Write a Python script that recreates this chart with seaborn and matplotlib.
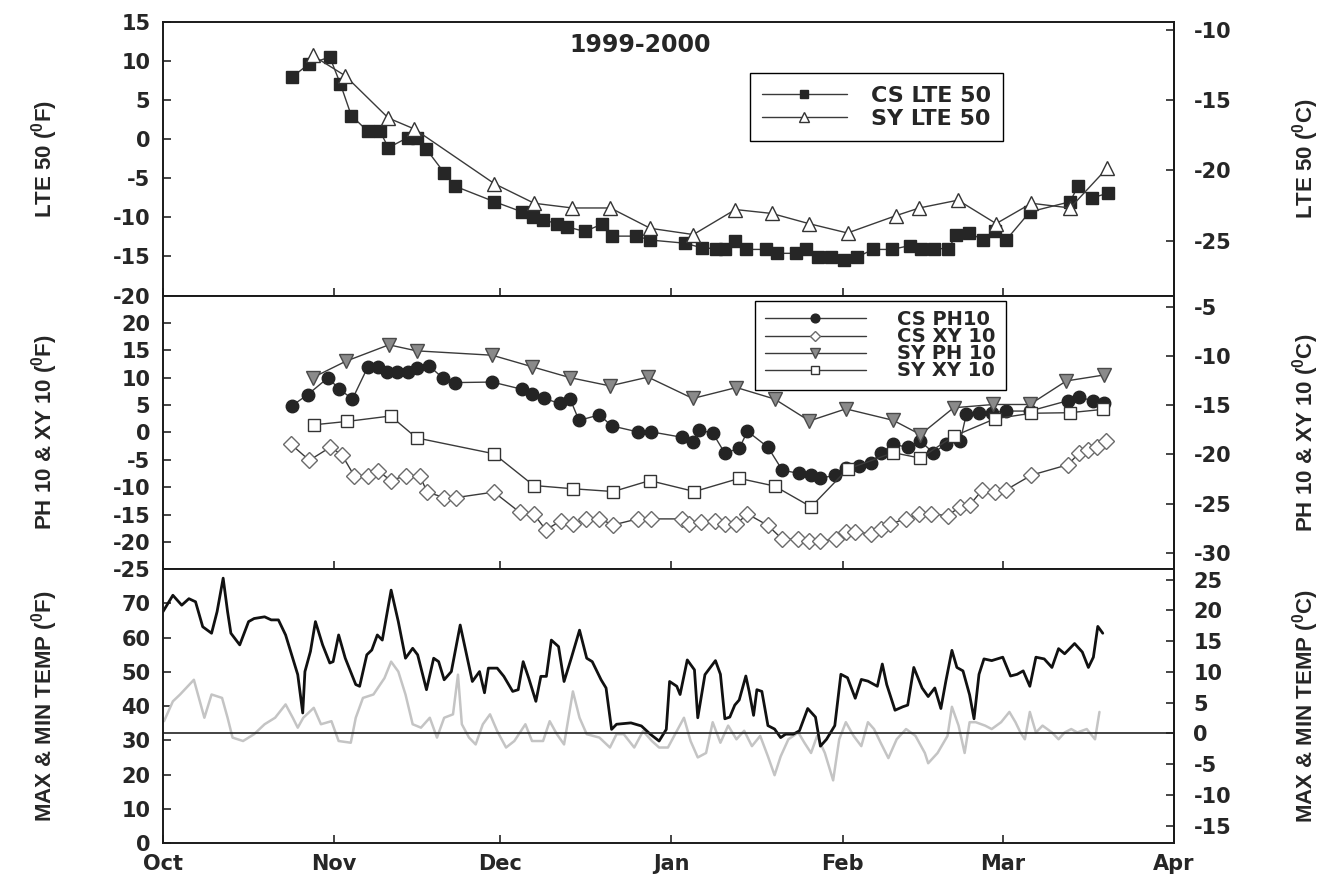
import numpy as np
import pandas as pd
import seaborn as sns
import matplotlib.pyplot as plt

# x values are days counted from 1 Oct 1999
month_days = [0, 31, 61, 92, 123, 152, 183]
month_labels = ['Oct', 'Nov', 'Dec', 'Jan', 'Feb', 'Mar', 'Apr']

# top panel: LTE 50 (F)
cs_lte_day = [23.3, 26.4, 30.2, 32.1, 34.1, 37.1, 39.3, 40.8, 44.3, 45.9,
              47.7, 50.9, 52.8, 60.0, 65.0, 66.9, 68.7, 71.3, 73.1, 76.3,
              79.4, 81.3, 85.7, 88.2, 94.4, 97.6, 100.1, 101.8, 103.6, 105.6,
              109.1, 111.1, 114.6, 116.3, 118.6, 121.0, 123.3, 125.6, 128.5, 132.0,
              135.2, 137.2, 139.5, 142.1, 143.6, 145.9, 148.5, 150.6, 152.6, 156.9,
              164.2, 165.6, 168.2, 171.1]
cs_lte = [7.9, 9.6, 10.5, 7.1, 3.0, 1.0, 1.0, -1.1, 0.2, 0.2,
          -1.3, -4.3, -6.0, -8.0, -9.3, -9.9, -10.3, -10.8, -11.2, -11.8,
          -10.9, -12.4, -12.4, -12.9, -13.3, -13.9, -14.0, -14.0, -13.0, -14.1,
          -14.1, -14.6, -14.6, -14.1, -15.1, -15.1, -15.5, -15.1, -14.1, -14.1,
          -13.6, -14.0, -14.0, -14.0, -12.3, -12.0, -12.9, -11.8, -12.9, -9.3,
          -8.0, -6.0, -7.5, -6.9]
sy_lte_day = [27.1, 33.0, 40.8, 45.5, 60.0, 67.2, 74.1, 81.0, 88.2, 96.0,
              103.6, 110.2, 116.9, 123.9, 132.6, 136.9, 143.9, 150.8, 157.2, 164.2,
              170.9]
sy_lte = [10.7, 8.1, 2.7, 1.3, -5.7, -8.2, -8.8, -8.8, -11.4, -12.2,
          -9.0, -9.5, -10.8, -12.0, -9.8, -8.8, -7.8, -10.8, -8.2, -8.8,
          -3.7]

# middle panel: PH 10 & XY 10 (F)
cs_ph_day = [23.4, 26.2, 29.9, 31.8, 34.3, 37.1, 39.0, 40.6, 42.4, 44.3,
             45.9, 48.1, 50.6, 52.8, 59.6, 64.9, 66.8, 69.0, 71.8, 73.7,
             75.3, 79.0, 81.2, 85.9, 88.4, 94.0, 95.9, 97.1, 99.5, 101.7,
             104.3, 105.8, 109.5, 112.1, 115.2, 117.3, 119.0, 121.6, 123.6, 125.9,
             128.2, 129.9, 132.2, 134.8, 137.1, 139.4, 141.7, 144.3, 145.4, 147.7,
             150.0, 152.6, 156.9, 163.8, 165.8, 168.4, 170.4]
cs_ph = [4.9, 6.9, 10.0, 8.0, 6.1, 12.0, 12.0, 11.1, 11.1, 11.1,
         11.7, 12.2, 10.0, 9.1, 9.2, 7.9, 7.1, 6.2, 5.3, 6.1,
         2.2, 3.2, 1.2, 0.1, 0.1, -0.9, -1.7, 0.4, -0.1, -3.8,
         -2.9, 0.2, -2.7, -6.9, -7.5, -7.8, -8.4, -7.8, -6.5, -6.2,
         -5.6, -3.7, -2.2, -2.7, -1.6, -3.7, -2.2, -1.6, 3.3, 3.6,
         3.6, 3.9, 3.9, 5.8, 6.4, 5.8, 5.4]
cs_xy_day = [23.1, 26.5, 30.3, 32.4, 34.6, 37.1, 39.0, 41.2, 44.0, 46.5,
             47.8, 50.9, 53.1, 59.9, 64.6, 67.1, 69.3, 72.1, 74.3, 76.5,
             79.0, 81.5, 85.9, 88.4, 94.0, 95.3, 97.4, 100.0, 101.7, 103.8,
             105.8, 109.5, 112.1, 115.0, 117.0, 119.0, 121.9, 123.6, 125.3, 128.2,
             129.9, 131.6, 134.5, 136.8, 139.1, 142.0, 144.3, 146.0, 148.3, 150.6,
             152.6, 157.2, 163.8, 165.8, 167.5, 169.0, 170.7]
cs_xy = [-2.1, -5.1, -2.7, -4.1, -7.9, -7.9, -7.0, -8.8, -7.9, -7.9,
         -10.9, -11.9, -11.9, -10.9, -14.6, -14.9, -17.8, -16.1, -16.7, -15.8,
         -15.8, -16.9, -15.8, -15.8, -15.8, -16.7, -16.4, -16.1, -16.7, -16.7,
         -14.9, -17.0, -19.5, -19.5, -19.8, -19.8, -19.5, -18.2, -18.2, -18.5,
         -17.6, -16.7, -15.8, -14.9, -14.9, -15.2, -13.6, -13.3, -10.5, -10.9,
         -10.5, -7.8, -5.9, -3.8, -3.2, -2.6, -1.6]
sy_ph_day = [27.1, 33.1, 40.9, 45.9, 59.6, 66.8, 73.7, 80.9, 87.8, 95.9,
             103.8, 110.7, 117.0, 123.6, 132.2, 137.1, 143.1, 150.3, 156.9, 163.5,
             170.4]
sy_ph = [10.0, 13.0, 16.0, 14.9, 14.1, 12.0, 10.0, 8.5, 10.1, 6.2,
         8.2, 6.1, 2.1, 4.3, 2.2, -0.4, 4.5, 5.1, 5.1, 9.4,
         10.5]
sy_xy_day = [27.4, 33.3, 41.2, 45.9, 59.9, 67.1, 74.3, 81.5, 88.1, 96.2,
             104.3, 110.7, 117.3, 123.9, 132.2, 137.1, 143.1, 150.6, 157.2, 164.1,
             170.1]
sy_xy = [1.4, 2.0, 3.0, -1.0, -3.9, -9.7, -10.3, -10.8, -8.8, -10.8,
         -8.4, -9.8, -13.6, -6.7, -3.7, -4.7, -0.7, 2.5, 3.5, 3.6,
         4.2]

# bottom panel: daily max & min air temperature (F)
tmax_day = [0, 1.8, 3.4, 4.7, 5.9, 7.2, 8.8, 9.8, 10.9, 11.7,
            12.3, 13.9, 15.5, 16.5, 18.4, 19.6, 20.9, 22.2, 23.5, 24.4,
            25.3, 25.7, 26.7, 27.6, 28.9, 30.2, 30.8, 31.8, 33.0, 34.9,
            35.6, 36.9, 37.8, 38.8, 39.7, 41.3, 42.6, 43.9, 45.2, 46.1,
            47.7, 49.0, 49.9, 50.9, 52.2, 53.8, 54.7, 56.0, 57.3, 58.2,
            58.9, 60.5, 61.7, 63.3, 64.3, 65.2, 66.2, 67.5, 68.4, 69.4,
            70.3, 71.6, 72.6, 73.9, 75.4, 76.7, 77.7, 79.3, 80.2, 81.2,
            82.1, 84.7, 86.6, 88.2, 89.8, 91.1, 91.7, 93.0, 93.6, 94.9,
            96.2, 96.8, 98.1, 100.0, 100.9, 101.7, 102.6, 103.5, 104.3, 105.5,
            106.1, 106.9, 107.5, 108.4, 109.5, 110.7, 111.8, 112.7, 114.1, 115.2,
            116.7, 118.1, 119.0, 120.1, 121.6, 122.7, 123.9, 125.3, 126.4, 127.6,
            129.3, 130.2, 131.0, 132.5, 133.9, 134.8, 135.9, 137.4, 138.5, 139.7,
            140.8, 141.7, 142.8, 143.7, 144.8, 146.0, 146.8, 147.7, 148.6, 150.0,
            152.0, 153.4, 154.6, 155.7, 156.9, 158.0, 159.5, 160.9, 162.1, 163.2,
            165.0, 166.4, 167.5, 168.4, 169.2, 170.1]
tmax = [67.6, 72.4, 69.5, 71.4, 70.5, 63.2, 61.3, 67.6, 77.4, 67.6,
        61.3, 57.9, 64.7, 65.6, 66.1, 65.2, 65.2, 60.8, 54.0, 49.2,
        38.0, 50.1, 56.0, 64.7, 57.9, 52.6, 53.0, 60.8, 54.0, 46.3,
        45.8, 55.0, 56.4, 60.8, 59.3, 73.9, 64.7, 54.0, 56.9, 55.0,
        44.8, 54.0, 53.0, 47.7, 50.1, 63.7, 56.9, 47.2, 50.1, 43.9,
        51.1, 51.1, 48.7, 44.3, 44.8, 53.0, 48.2, 41.4, 48.7, 48.7,
        59.3, 57.4, 47.2, 54.0, 62.2, 54.0, 53.0, 47.7, 45.3, 33.2,
        34.7, 35.1, 34.2, 31.8, 29.8, 33.2, 47.2, 45.8, 43.4, 53.5,
        50.6, 36.6, 49.2, 53.3, 49.3, 36.3, 36.8, 40.3, 41.8, 48.8,
        44.3, 37.3, 44.8, 44.3, 34.3, 33.3, 30.8, 31.8, 31.8, 32.8,
        39.3, 36.8, 28.3, 30.3, 34.3, 49.3, 48.3, 42.3, 47.8, 47.3,
        45.8, 52.3, 46.3, 38.8, 39.8, 40.3, 51.3, 45.3, 42.8, 45.3,
        39.3, 47.3, 56.3, 51.3, 50.3, 43.3, 36.3, 49.3, 53.8, 53.3,
        54.3, 48.8, 49.3, 50.3, 45.8, 54.3, 53.8, 51.3, 56.8, 55.3,
        58.3, 55.8, 51.3, 54.3, 63.3, 61.3]
tmin_day = [0.2, 1.8, 3.1, 5.6, 7.5, 8.8, 10.7, 11.7, 12.6, 14.5,
            16.5, 18.4, 20.3, 22.2, 23.5, 24.4, 25.4, 27.3, 28.6, 30.5,
            31.8, 34.0, 34.9, 36.2, 38.1, 40.1, 41.3, 42.6, 43.9, 45.2,
            46.7, 48.3, 49.6, 50.9, 52.5, 53.4, 54.1, 55.4, 56.6, 57.9,
            59.2, 60.5, 62.1, 63.6, 65.6, 66.8, 68.8, 70.0, 71.3, 72.6,
            74.2, 75.4, 76.7, 79.0, 80.9, 82.1, 83.4, 85.3, 86.9, 88.5,
            89.8, 91.4, 93.0, 94.3, 95.5, 96.8, 98.3, 99.5, 100.9, 102.3,
            103.8, 105.2, 106.6, 108.1, 109.5, 110.7, 111.8, 113.2, 115.0, 116.1,
            117.3, 118.4, 119.8, 121.3, 122.4, 123.6, 125.0, 126.4, 127.6, 128.7,
            129.9, 131.3, 132.8, 134.5, 136.2, 137.9, 138.5, 140.2, 142.0, 142.8,
            144.0, 145.1, 146.0, 147.1, 148.8, 150.0, 151.7, 153.2, 154.3, 155.2,
            156.0, 156.9, 158.0, 159.2, 160.9, 162.1, 163.2, 164.4, 165.5, 167.2,
            168.7, 169.5]
tmin = [35.6, 41.4, 43.4, 47.7, 36.6, 43.4, 42.4, 36.6, 30.8, 29.8,
        31.8, 34.7, 36.6, 40.5, 36.6, 33.7, 36.6, 39.5, 34.7, 35.6,
        29.8, 29.3, 36.6, 42.4, 43.4, 48.2, 53.0, 50.1, 43.4, 34.7,
        33.7, 36.6, 30.8, 36.6, 37.6, 49.2, 34.7, 30.8, 28.8, 34.7,
        37.6, 32.7, 27.9, 29.8, 34.7, 29.8, 29.8, 35.6, 31.8, 28.8,
        44.3, 36.6, 31.8, 30.8, 27.9, 31.8, 31.8, 27.9, 32.7, 29.8,
        27.9, 27.9, 32.7, 36.6, 29.8, 25.0, 26.3, 35.3, 29.3, 34.3,
        30.3, 32.8, 28.3, 31.3, 25.3, 19.8, 25.3, 30.3, 32.3, 29.3,
        26.3, 31.3, 26.3, 18.3, 30.3, 35.3, 31.3, 28.3, 35.3, 33.3,
        29.3, 24.8, 30.3, 33.3, 31.3, 26.3, 23.3, 26.3, 31.3, 39.8,
        34.3, 26.3, 35.3, 35.3, 34.3, 33.3, 35.3, 38.3, 35.3, 32.3,
        30.3, 38.3, 32.3, 34.3, 32.3, 30.3, 32.3, 33.3, 32.3, 33.3,
        30.3, 38.3]


def f2c(f):
    return (np.asarray(f) - 32) * 5 / 9


def c2f(c):
    return np.asarray(c) * 9 / 5 + 32


sns.set_style("ticks")
plt.rcParams['font.family'] = ['DejaVu Sans']
plt.rcParams['font.weight'] = 'bold'
plt.rcParams['axes.labelweight'] = 'bold'
plt.rcParams['axes.unicode_minus'] = False
plt.rcParams['mathtext.fontset'] = 'custom'
plt.rcParams['mathtext.rm'] = 'Liberation Sans:bold'
plt.rcParams['mathtext.it'] = 'Liberation Sans:bold'
plt.rcParams['mathtext.bf'] = 'Liberation Sans:bold'
plt.rcParams['axes.linewidth'] = 1.4
plt.rcParams['axes.edgecolor'] = '#1a1a1a'

fs = 15
lab_font = dict(family='Liberation Sans', weight='bold', size=16)

fig, axes = plt.subplots(3, 1, sharex=True, figsize=(13.29, 8.74), dpi=100)
fig.subplots_adjust(left=0.1226, right=0.8834, top=0.975, bottom=0.0355, hspace=0)
ax1, ax2, ax3 = axes
line_c = '#3a3a3a'

# ---- panel 1
sns.lineplot(x=cs_lte_day, y=cs_lte, ax=ax1, color=line_c, linewidth=1,
             marker='s', markersize=8, markerfacecolor='#262626',
             markeredgecolor='#262626', markeredgewidth=1, label='CS LTE 50')
sns.lineplot(x=sy_lte_day, y=sy_lte, ax=ax1, color=line_c, linewidth=1,
             marker='^', markersize=10, markerfacecolor='white',
             markeredgecolor='#333333', markeredgewidth=1, label='SY LTE 50')
ax1.set_ylim(-20, 15)
ax1.set_yticks(range(-20, 16, 5))
ax1.text(0.472, 0.915, '1999-2000', transform=ax1.transAxes, ha='center',
         va='center', fontsize=17, fontweight='bold')
ax1.legend(loc='upper left', bbox_to_anchor=(0.5806, 0.8118), borderaxespad=0,
           fontsize=16, frameon=True, fancybox=False, edgecolor='black',
           framealpha=1, handlelength=3.8, handletextpad=1.1, markerscale=0.75,
           labelspacing=0.15, borderpad=0.55)

# ---- panel 2
sns.lineplot(x=cs_ph_day, y=cs_ph, ax=ax2, color=line_c, linewidth=1,
             marker='o', markersize=9, markerfacecolor='#242424',
             markeredgecolor='#242424', markeredgewidth=1, label='CS PH10')
sns.lineplot(x=cs_xy_day, y=cs_xy, ax=ax2, color=line_c, linewidth=1,
             marker='D', markersize=8, markerfacecolor='white',
             markeredgecolor='#6a6a6a', markeredgewidth=1, label='CS XY 10')
sns.lineplot(x=sy_ph_day, y=sy_ph, ax=ax2, color=line_c, linewidth=1,
             marker='v', markersize=10, markerfacecolor='#8a8a8a',
             markeredgecolor='#4a4a4a', markeredgewidth=1, label='SY PH 10')
sns.lineplot(x=sy_xy_day, y=sy_xy, ax=ax2, color=line_c, linewidth=1,
             marker='s', markersize=9, markerfacecolor='white',
             markeredgecolor='#333333', markeredgewidth=1, label='SY XY 10')
ax2.set_ylim(-25, 25)
ax2.set_yticks(range(-25, 21, 5))
ax2.legend(loc='upper left', bbox_to_anchor=(0.5856, 0.9818), borderaxespad=0,
           fontsize=14, frameon=True, fancybox=False, edgecolor='black',
           framealpha=1, handlelength=5.2, handletextpad=1.6, markerscale=0.7,
           labelspacing=-0.1, borderpad=0.5)

# ---- panel 3
sns.lineplot(x=tmin_day, y=tmin, ax=ax3, color='#c4c4c4', linewidth=1.8)
sns.lineplot(x=tmax_day, y=tmax, ax=ax3, color='#111111', linewidth=2)
ax3.axhline(32, color='#222222', linewidth=1.2)
ax3.set_ylim(0, 80)
ax3.set_yticks(range(0, 71, 10))

# axis titles (left in F, right in C)
left_labels = ['LTE 50 ($^{0}$F)', 'PH 10 & XY 10 ($^{0}$F)', 'MAX & MIN TEMP ($^{0}$F)']
right_labels = ['LTE 50 ($^{0}$C)', 'PH 10 & XY 10 ($^{0}$C)', 'MAX & MIN TEMP ($^{0}$C)']
right_ticks = [[-25, -20, -15, -10], [-30, -25, -20, -15, -10, -5],
               [-15, -10, -5, 0, 5, 10, 15, 20, 25]]

for ax, ticks, llab, rlab in zip(axes, right_ticks, left_labels, right_labels):
    sec = ax.secondary_yaxis('right', functions=(f2c, c2f))
    sec.set_yticks(ticks)
    sec.tick_params(direction='in', length=6, width=1.2, labelsize=fs, pad=14)
    ax.tick_params(axis='y', direction='in', length=6, width=1.2, labelsize=fs, pad=9)
    ax.tick_params(axis='x', direction='in', length=6, width=1.2, labelsize=fs, pad=8)
    ax.set_xlabel('')
    ax.set_ylabel('')
    ax.text(-0.117, 0.5, llab, transform=ax.transAxes, rotation=90,
            ha='center', va='center', fontdict=lab_font)
    ax.text(1.13, 0.5, rlab, transform=ax.transAxes, rotation=90,
            ha='center', va='center', fontdict=lab_font)

ax3.set_xlim(0, 183)
ax3.set_xticks(month_days)
ax3.set_xticklabels(month_labels)

fig.savefig('out.png', dpi=100)
